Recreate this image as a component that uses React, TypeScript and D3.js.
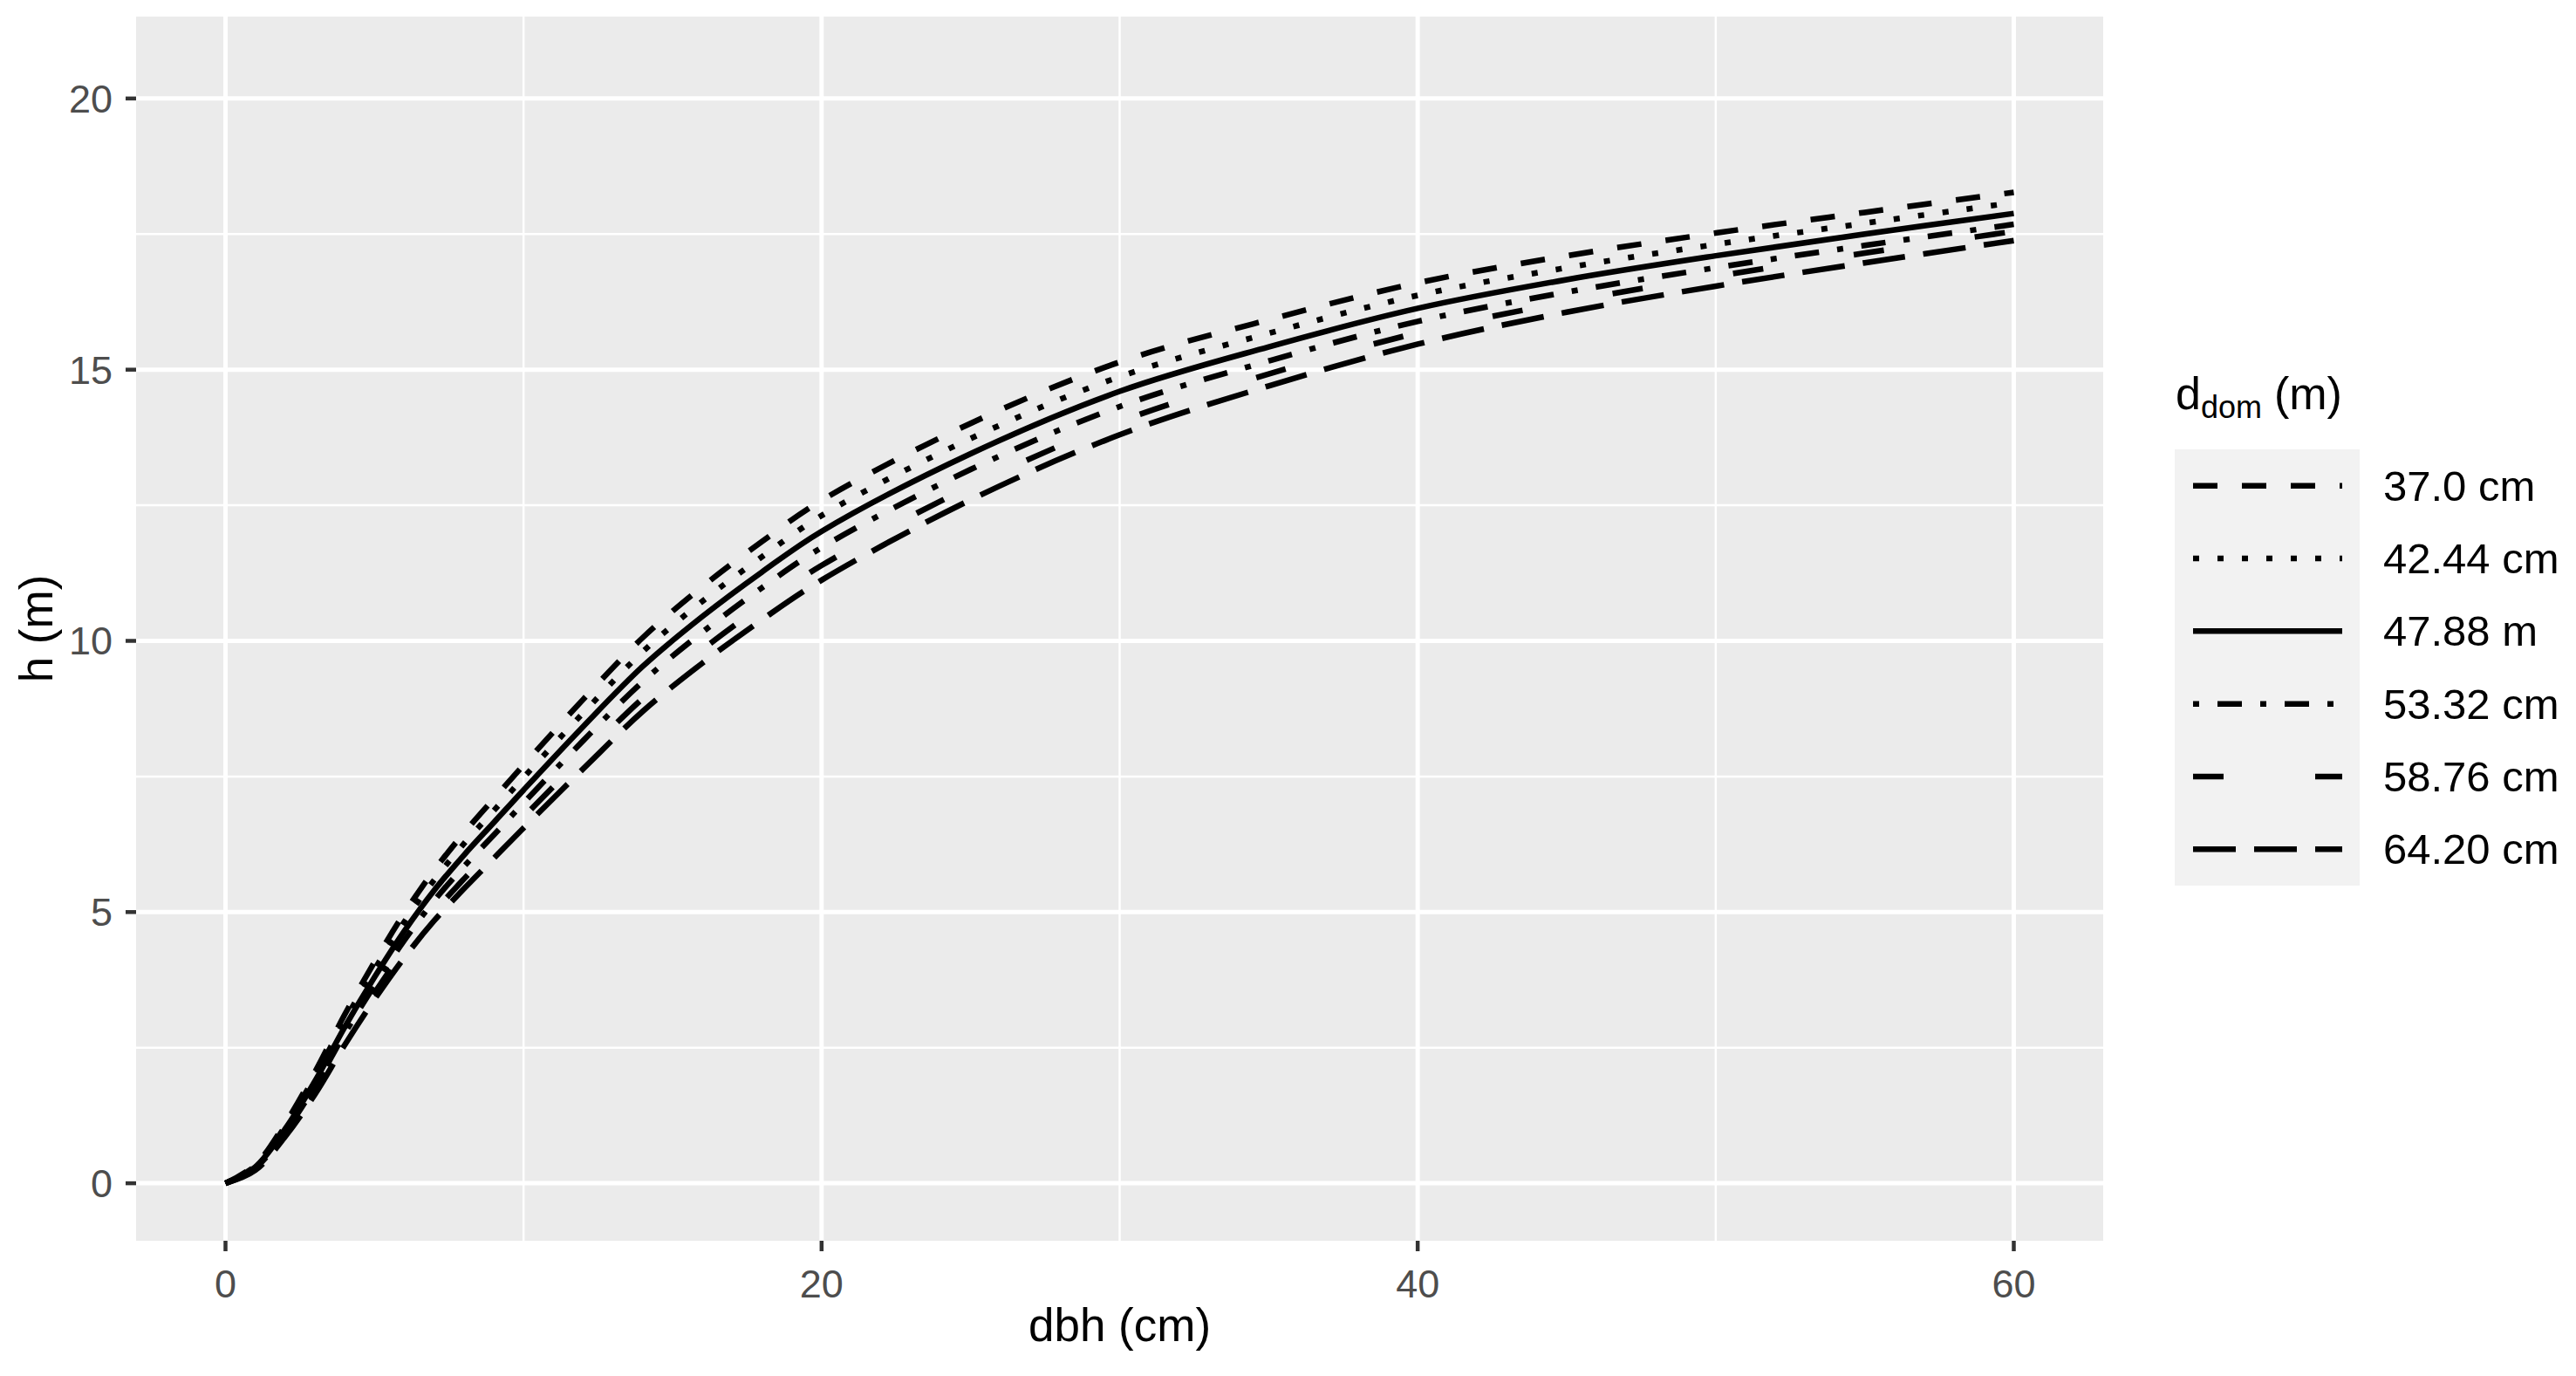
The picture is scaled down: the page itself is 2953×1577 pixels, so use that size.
import React, { Component } from 'react';
import { select, scaleLinear, scaleBand, line, curveCatmullRom } from 'd3';

const dbh = [0, 1, 2, 3, 4, 5, 6, 7, 8, 9, 10, 12, 14, 16, 18, 20, 25, 30, 35, 40, 45, 50, 55, 60];

// h (m) for each d_dom
const h37_0 = [0, 0.34, 1.10, 2.05, 3.11, 4.08, 4.98, 5.77, 6.46, 7.09, 7.71, 8.92, 10.06, 11.00, 11.83, 12.59, 14.01, 15.14, 15.92, 16.60, 17.10, 17.52, 17.90, 18.27];
const h42_44 = [0, 0.32, 1.05, 1.97, 3.00, 3.94, 4.82, 5.59, 6.26, 6.87, 7.48, 8.67, 9.80, 10.73, 11.55, 12.31, 13.73, 14.87, 15.67, 16.37, 16.88, 17.31, 17.70, 18.08];
const h47_88 = [0, 0.30, 1.00, 1.88, 2.88, 3.80, 4.65, 5.40, 6.05, 6.65, 7.25, 8.42, 9.53, 10.45, 11.27, 12.02, 13.45, 14.60, 15.42, 16.13, 16.66, 17.10, 17.50, 17.88];
const h53_32 = [0, 0.28, 0.95, 1.79, 2.76, 3.65, 4.48, 5.21, 5.84, 6.42, 7.01, 8.16, 9.25, 10.16, 10.98, 11.72, 13.16, 14.32, 15.16, 15.89, 16.43, 16.88, 17.29, 17.68];
const h58_76 = [0, 0.26, 0.90, 1.71, 2.65, 3.51, 4.30, 5.00, 5.61, 6.18, 6.75, 7.87, 8.94, 9.84, 10.65, 11.39, 12.85, 14.04, 14.92, 15.68, 16.25, 16.72, 17.15, 17.55];
const h64_20 = [0, 0.24, 0.86, 1.64, 2.55, 3.39, 4.16, 4.84, 5.43, 5.99, 6.55, 7.64, 8.70, 9.59, 10.39, 11.12, 12.60, 13.80, 14.70, 15.47, 16.06, 16.54, 16.97, 17.38];

const ddomLabels = ['37.0 cm', '42.44 cm', '47.88 m', '53.32 cm', '58.76 cm', '64.20 cm'];
const heights = [h37_0, h42_44, h47_88, h53_32, h58_76, h64_20];

const xTicks = [0, 20, 40, 60];
const xMinor = [10, 30, 50];
const yTicks = [0, 5, 10, 15, 20];
const yMinor = [2.5, 7.5, 12.5, 17.5];

// line types: dashed, dotted, solid, dotdash, "5F", longdash
const dashes = ['28 28', '7 21', null, '7 21 28 21', '35 105', '49 21'];

const FONT = '"Liberation Sans", Arial, sans-serif';

class App extends Component {
  svgRef = React.createRef<SVGSVGElement>();

  componentDidMount() {
    this.draw();
  }

  draw() {
    let me = this;
    let svg = select(me.svgRef.current);
    svg.selectAll('*').remove();

    const panel = { left: 156, right: 2411, top: 19, bottom: 1422 };
    let x = scaleLinear().domain([-3, 63]).range([panel.left, panel.right]);
    let y = scaleLinear().domain([-1.06, 21.51]).range([panel.bottom, panel.top]);

    /* panel */
    svg.append('rect')
      .attr('x', panel.left)
      .attr('y', panel.top)
      .attr('width', panel.right - panel.left)
      .attr('height', panel.bottom - panel.top)
      .attr('fill', '#EBEBEB');

    let grid = svg.append('g');
    grid.selectAll('.xminor').data(xMinor).enter().append('line')
      .attr('x1', d => x(d)).attr('x2', d => x(d))
      .attr('y1', panel.top).attr('y2', panel.bottom)
      .attr('stroke', '#fff').attr('stroke-width', 2.5);
    grid.selectAll('.yminor').data(yMinor).enter().append('line')
      .attr('y1', d => y(d)).attr('y2', d => y(d))
      .attr('x1', panel.left).attr('x2', panel.right)
      .attr('stroke', '#fff').attr('stroke-width', 2.5);
    grid.selectAll('.xmajor').data(xTicks).enter().append('line')
      .attr('x1', d => x(d)).attr('x2', d => x(d))
      .attr('y1', panel.top).attr('y2', panel.bottom)
      .attr('stroke', '#fff').attr('stroke-width', 5);
    grid.selectAll('.ymajor').data(yTicks).enter().append('line')
      .attr('y1', d => y(d)).attr('y2', d => y(d))
      .attr('x1', panel.left).attr('x2', panel.right)
      .attr('stroke', '#fff').attr('stroke-width', 5);

    /* curves */
    let path = line<number>()
      .x((d, i) => x(dbh[i]))
      .y(d => y(d))
      .curve(curveCatmullRom.alpha(0.5));

    svg.append('g').selectAll('path')
      .data(heights)
      .enter().append('path')
      .attr('d', d => path(d))
      .attr('fill', 'none')
      .attr('stroke', '#000')
      .attr('stroke-width', 6.5)
      .attr('stroke-dasharray', (d, i) => dashes[i])
      .attr('stroke-linecap', 'butt');

    /* axes */
    let axes = svg.append('g');
    axes.selectAll('.xtick').data(xTicks).enter().append('line')
      .attr('x1', d => x(d)).attr('x2', d => x(d))
      .attr('y1', panel.bottom).attr('y2', panel.bottom + 12)
      .attr('stroke', '#333').attr('stroke-width', 4.5);
    axes.selectAll('.xlab').data(xTicks).enter().append('text')
      .attr('x', d => x(d)).attr('y', 1487)
      .attr('text-anchor', 'middle')
      .style('font-family', FONT).style('font-size', '45px')
      .attr('fill', '#4D4D4D')
      .text(d => d);
    axes.selectAll('.ytick').data(yTicks).enter().append('line')
      .attr('y1', d => y(d)).attr('y2', d => y(d))
      .attr('x1', panel.left - 12).attr('x2', panel.left)
      .attr('stroke', '#333').attr('stroke-width', 4.5);
    axes.selectAll('.ylab').data(yTicks).enter().append('text')
      .attr('x', 129).attr('y', d => y(d) + 16)
      .attr('text-anchor', 'end')
      .style('font-family', FONT).style('font-size', '45px')
      .attr('fill', '#4D4D4D')
      .text(d => d);

    axes.append('text')
      .attr('x', (panel.left + panel.right) / 2).attr('y', 1537)
      .attr('text-anchor', 'middle')
      .style('font-family', FONT).style('font-size', '53px')
      .attr('fill', '#000')
      .text('dbh (cm)');
    axes.append('text')
      .attr('transform', `translate(60,${(panel.top + panel.bottom) / 2}) rotate(-90)`)
      .attr('text-anchor', 'middle')
      .style('font-family', FONT).style('font-size', '53px')
      .attr('fill', '#000')
      .text('h (m)');

    /* legend */
    let lg = svg.append('g');
    let title = lg.append('text')
      .attr('x', 2494).attr('y', 469)
      .style('font-family', FONT).attr('fill', '#000');
    title.append('tspan').style('font-size', '52px').text('d');
    title.append('tspan').style('font-size', '36px').attr('dy', 10).text('dom');
    title.append('tspan').style('font-size', '52px').attr('dy', -10).attr('dx', 14).text('(m)');

    let band = scaleBand().domain(ddomLabels).range([515, 1015]);
    lg.append('rect')
      .attr('x', 2493).attr('y', 515)
      .attr('width', 212).attr('height', 500)
      .attr('fill', '#F2F2F2');
    lg.selectAll('.key').data(ddomLabels).enter().append('line')
      .attr('x1', 2514).attr('x2', 2685)
      .attr('y1', d => band(d) + band.bandwidth() / 2)
      .attr('y2', d => band(d) + band.bandwidth() / 2)
      .attr('stroke', '#000').attr('stroke-width', 6.5)
      .attr('stroke-dasharray', (d, i) => dashes[i]);
    lg.selectAll('.klab').data(ddomLabels).enter().append('text')
      .attr('x', 2732)
      .attr('y', d => band(d) + band.bandwidth() / 2 + 17)
      .style('font-family', FONT).style('font-size', '49px')
      .attr('fill', '#000')
      .text(d => d);
  }

  render() {
    return (
      <svg
        ref={this.svgRef}
        width={2953}
        height={1577}
        style={{ position: 'absolute', left: 0, top: 0, background: '#fff' }}
      />
    );
  }
}

export default App;
